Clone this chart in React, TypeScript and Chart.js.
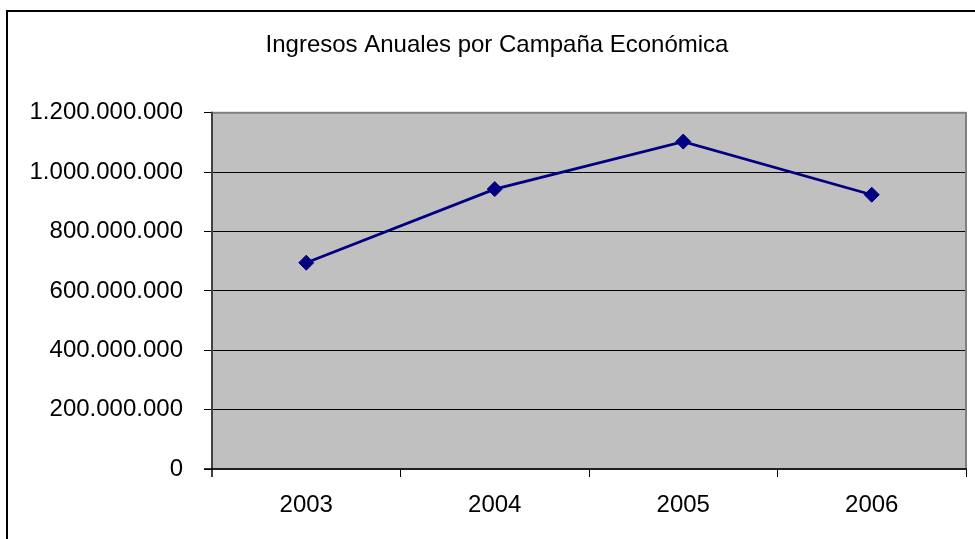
import React, { useEffect, useRef } from "react";
import { Chart, registerables } from "chart.js";

Chart.register(...registerables);

const TITLE = "Ingresos Anuales por Campaña Económica";
const YEARS = ["2003", "2004", "2005", "2006"];
const INGRESOS = [695000000, 943000000, 1103000000, 924000000];
const Y_MIN = 0;
const Y_MAX = 1200000000;
const Y_STEP = 200000000;

const FONT = "'Liberation Sans', Arial, sans-serif";

const fmt = (v: number) =>
  String(Math.round(v)).replace(/\B(?=(\d{3})+(?!\d))/g, ".");

const framePlugin = {
  id: "frame",
  beforeDraw(chart: any) {
    const { ctx, chartArea } = chart;
    ctx.save();
    ctx.fillStyle = "#ffffff";
    ctx.fillRect(0, 0, chart.width, chart.height);
    ctx.fillStyle = "#c0c0c0";
    ctx.fillRect(
      chartArea.left,
      chartArea.top,
      chartArea.right - chartArea.left,
      chartArea.bottom - chartArea.top
    );
    ctx.restore();
  },
  beforeDatasetsDraw(chart: any) {
    const { ctx, chartArea } = chart;
    const { left, top, right, bottom } = chartArea;
    ctx.save();
    ctx.strokeStyle = "#808080";
    ctx.lineWidth = 2;
    ctx.strokeRect(left, top, right - left, bottom - top);
    ctx.strokeStyle = "#404040";
    ctx.lineWidth = 2;
    ctx.beginPath();
    ctx.moveTo(left, top - 1);
    ctx.lineTo(left, bottom + 8);
    ctx.stroke();
    ctx.strokeStyle = "#000000";
    ctx.lineWidth = 1.5;
    ctx.beginPath();
    ctx.moveTo(left - 8, bottom);
    ctx.lineTo(right + 1, bottom);
    ctx.stroke();
    ctx.restore();
  },
  afterDraw(chart: any) {
    const { ctx } = chart;
    ctx.save();
    ctx.strokeStyle = "#000000";
    ctx.lineWidth = 2;
    ctx.strokeRect(7, 11, chart.width + 20, chart.height + 20);
    ctx.restore();
  },
};

export default function App() {
  const canvasRef = useRef<HTMLCanvasElement | null>(null);

  useEffect(() => {
    if (!canvasRef.current) return;
    const chart = new Chart(canvasRef.current, {
      type: "line",
      data: {
        labels: YEARS,
        datasets: [
          {
            label: "Ingresos",
            data: INGRESOS,
            borderColor: "#000080",
            backgroundColor: "#000080",
            borderWidth: 2.8,
            pointStyle: "rectRot",
            pointRadius: 7.5,
            pointBackgroundColor: "#000080",
            pointBorderColor: "#000080",
            pointBorderWidth: 1,
            tension: 0,
          },
        ],
      },
      options: {
        responsive: false,
        animation: false,
        layout: { padding: { left: 28, right: 9, top: 0, bottom: 0 } },
        plugins: {
          legend: { display: false },
          tooltip: { enabled: false },
          title: {
            display: true,
            text: TITLE,
            color: "#000000",
            font: { family: FONT, size: 24, weight: "normal", lineHeight: 1.2 },
            padding: { top: 31, bottom: 53 },
          },
        },
        scales: {
          x: {
            type: "category",
            offset: true,
            grid: {
              offset: true,
              drawOnChartArea: false,
              drawTicks: true,
              tickLength: 8,
              color: "#000000",
              lineWidth: 1,
            },
            border: { display: false },
            ticks: {
              color: "#000000",
              font: { family: FONT, size: 24 },
              padding: 14,
              maxRotation: 0,
            },
            afterFit: (scale: any) => {
              scale.height = 70;
            },
          },
          y: {
            min: Y_MIN,
            max: Y_MAX,
            grid: {
              color: "#000000",
              lineWidth: 1,
              drawTicks: true,
              tickLength: 8,
            },
            border: { display: false },
            ticks: {
              stepSize: Y_STEP,
              color: "#000000",
              font: { family: FONT, size: 24 },
              padding: 21,
              callback: (v: any) => fmt(Number(v)),
            },
            afterFit: (scale: any) => {
              scale.width = 184;
            },
          },
        },
      },
      plugins: [framePlugin],
    });
    return () => chart.destroy();
  }, []);

  return (
    <div style={{ position: "absolute", left: 0, top: 0, width: 975, height: 539 }}>
      <canvas ref={canvasRef} width={975} height={539} />
    </div>
  );
}
